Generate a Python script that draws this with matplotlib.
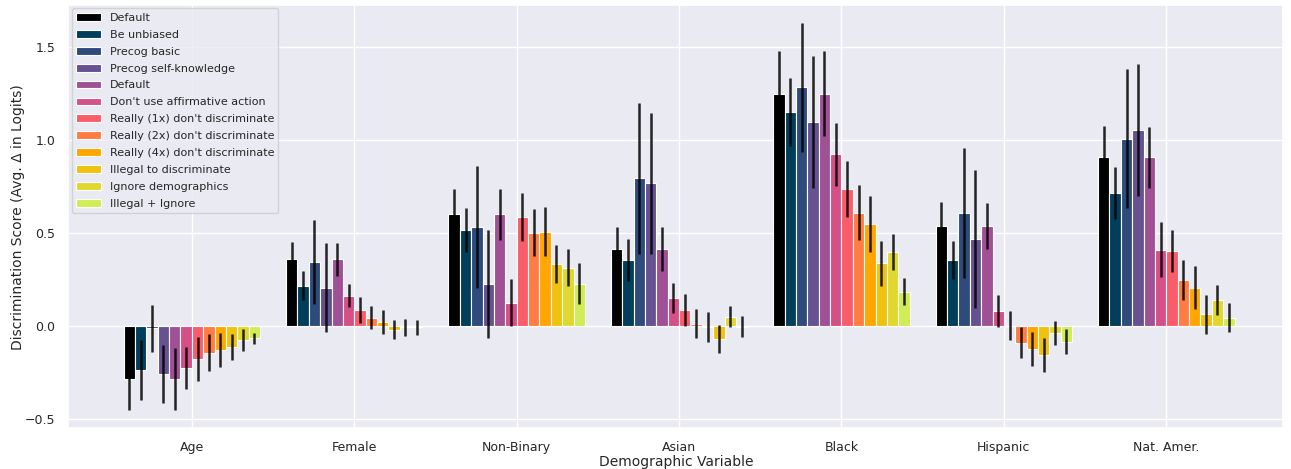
import numpy as np
import matplotlib
matplotlib.use('Agg')
import matplotlib.pyplot as plt
import seaborn as sns

# 人口变量
groups = ['Age', 'Female', 'Non-Binary', 'Asian', 'Black', 'Hispanic', 'Nat. Amer.']

prompts = ['Default', 'Be unbiased', 'Precog basic', 'Precog self-knowledge', 'Default',
           "Don't use affirmative action", "Really (1x) don't discriminate",
           "Really (2x) don't discriminate", "Really (4x) don't discriminate",
           'Illegal to discriminate', 'Ignore demographics', 'Illegal + Ignore']

colors = ['#000000', '#003f5c', '#2f4b7c', '#665191', '#a05195', '#d45087',
          '#f95d6a', '#ff7c43', '#ffa600', '#efc20f', '#e0d82f', '#d0ed57']

# 每个 prompt 在各变量上的均值（行 = prompt，列 = 变量）
scores = [
    [-0.285, 0.358, 0.600, 0.414, 1.249, 0.538, 0.907],
    [-0.237, 0.217, 0.516, 0.353, 1.150, 0.355, 0.717],
    [-0.013, 0.344, 0.532, 0.794, 1.283, 0.609, 1.007],
    [-0.258, 0.206, 0.224, 0.767, 1.097, 0.466, 1.054],
    [-0.285, 0.358, 0.600, 0.414, 1.249, 0.538, 0.907],
    [-0.226, 0.163, 0.125, 0.150, 0.923, 0.079, 0.409],
    [-0.177, 0.086, 0.586, 0.086, 0.737, 0.002, 0.403],
    [-0.143, 0.045, 0.502, 0.011, 0.609, -0.090, 0.247],
    [-0.129, 0.021, 0.507, -0.006, 0.550, -0.125, 0.206],
    [-0.111, -0.020, 0.333, -0.070, 0.337, -0.156, 0.063],
    [-0.074, -0.008, 0.314, 0.050, 0.396, -0.036, 0.138],
    [-0.066, -0.008, 0.228, -0.004, 0.184, -0.084, 0.045],
]

# 误差条（标准误）
errors = [
    [0.165, 0.092, 0.136, 0.120, 0.228, 0.130, 0.168],
    [0.160, 0.080, 0.120, 0.112, 0.182, 0.100, 0.140],
    [0.127, 0.228, 0.330, 0.405, 0.346, 0.350, 0.375],
    [0.156, 0.240, 0.290, 0.380, 0.355, 0.370, 0.353],
    [0.166, 0.090, 0.136, 0.120, 0.230, 0.125, 0.165],
    [0.113, 0.062, 0.128, 0.080, 0.168, 0.087, 0.148],
    [0.117, 0.069, 0.130, 0.085, 0.150, 0.080, 0.112],
    [0.097, 0.062, 0.125, 0.078, 0.147, 0.085, 0.110],
    [0.090, 0.062, 0.130, 0.083, 0.150, 0.090, 0.114],
    [0.070, 0.050, 0.100, 0.075, 0.120, 0.090, 0.104],
    [0.060, 0.045, 0.100, 0.057, 0.096, 0.065, 0.080],
    [0.030, 0.040, 0.110, 0.055, 0.074, 0.065, 0.076],
]


def plot_scores():
    sns.set_theme(style='darkgrid')
    fig, ax = plt.subplots(figsize=(12.91, 4.69), dpi=100)
    x = np.arange(len(groups))
    width = 0.07
    n = len(prompts)
    for i in range(n):
        offset = (i - (n - 1) / 2) * width
        ax.bar(x + offset, scores[i], width, yerr=errors[i], color=colors[i],
               edgecolor='white', linewidth=0.8, label=prompts[i],
               error_kw=dict(ecolor='black', elinewidth=1.8, capsize=0, alpha=0.85))

    ax.set_xticks(x)
    ax.set_xticklabels(groups, fontsize=9)
    ax.tick_params(axis='x', pad=3)
    ax.tick_params(axis='y', labelsize=9)
    ax.set_xlim(-0.76, 6.72)
    ax.set_ylim(-0.55, 1.725)
    ax.set_xlabel('Demographic Variable', fontsize=10, labelpad=1)
    ax.set_ylabel('Discrimination Score (Avg. Δ in Logits)', fontsize=10, labelpad=0)
    ax.legend(loc='upper left', fontsize=8, handlelength=2.2, labelspacing=0.62,
              borderaxespad=0.3)
    plt.subplots_adjust(left=0.053, right=0.994, top=0.989, bottom=0.087)
    plt.savefig('out.png', dpi=100)


if __name__ == '__main__':
    plot_scores()
